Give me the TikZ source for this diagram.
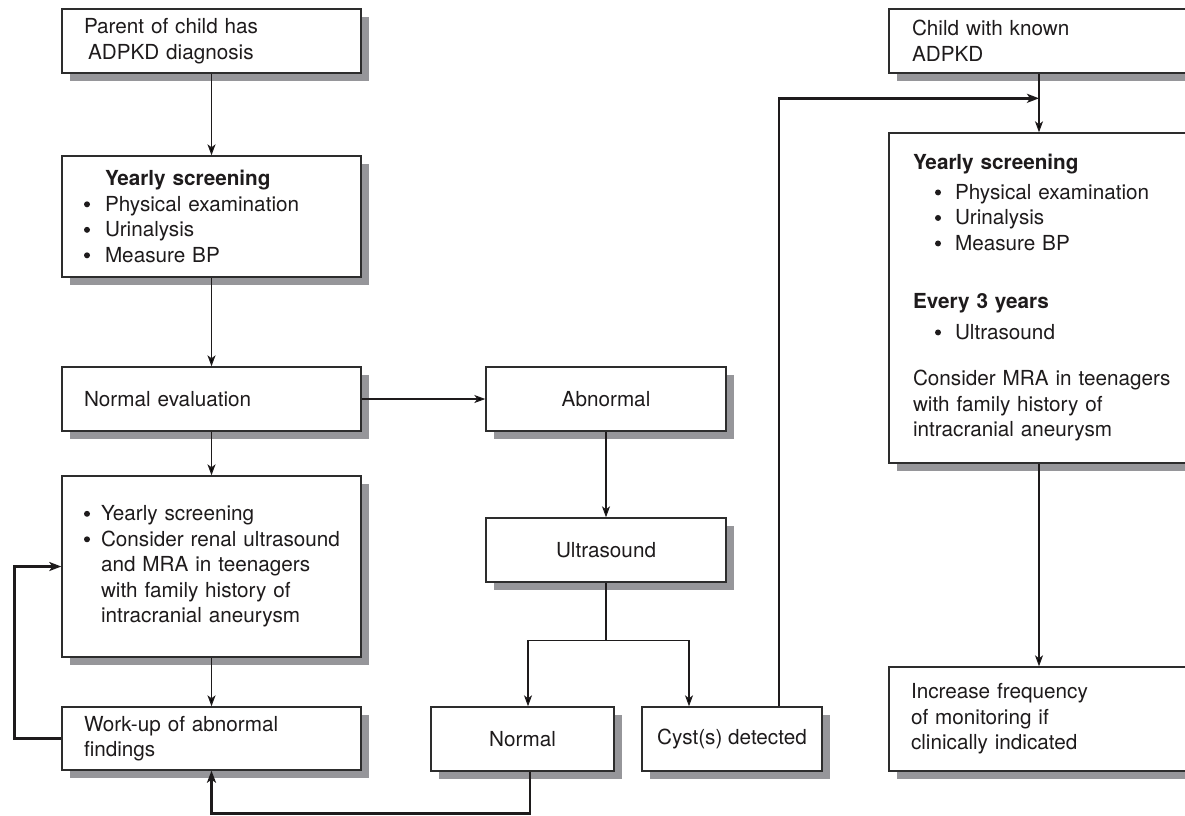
\documentclass[tikz,border=0pt]{standalone}
\usepackage{fontspec}
\setmainfont{TeX Gyre Heros}
\usetikzlibrary{arrows.meta,shadows}
\definecolor{ink}{RGB}{30,27,28}
\definecolor{edge}{RGB}{45,45,45}
\definecolor{shadowgray}{RGB}{150,150,154}
\newcommand\boxfont{\fontsize{20.7}{25.5}\selectfont}
% round list marker in a box of the given width
\newcommand\bul[1]{\makebox[#1][l]{\raisebox{4pt}{\tikz\fill[ink] (0,0) circle (3pt);}}}
\tikzset{
  box/.style={draw=edge, line width=1.4pt, fill=white, inner sep=0pt,
    text=ink, font=\boxfont,
    drop shadow={shadow xshift=8pt, shadow yshift=-8pt, fill=shadowgray, opacity=1}},
  wide/.style={box, minimum width=299pt, text width=255pt, align=left},
  rwide/.style={box, minimum width=300pt, align=left},
  mid/.style={box, align=center, minimum height=64pt},
  flow/.style={draw=ink, line width=1.2pt, -{Stealth[length=11pt,width=8pt,inset=3pt]}},
  back/.style={draw=ink, line width=2.6pt, -{Stealth[length=12pt,width=9pt,inset=3pt]}},
}
\begin{document}
\begin{tikzpicture}[x=1pt,y=-1pt]
\useasboundingbox (0,0) rectangle (1185,815);
\clip (0,0) rectangle (1185,815);

% left column
\node[wide, minimum height=64pt] (b1) at (211.5,41)
  {Parent of child has\\\hspace*{4pt}ADPKD diagnosis};
\node[wide, minimum height=121pt] (b2) at (211.5,216.5)
  {\hspace*{21pt}\textbf{Yearly screening}\\
   \bul{21pt}Physical examination\\
   \bul{21pt}Urinalysis\\
   \bul{21pt}Measure BP};
\node[wide, minimum height=64pt] (b3) at (211.5,399) {Normal evaluation};
\node[wide, minimum height=181pt] (b4) at (211.5,566.5)
  {\bul{17pt}Yearly screening\\
   \mbox{\bul{17pt}Consider renal ultrasound}\\
   \hspace*{17pt}and MRA in teenagers\\
   \hspace*{17pt}with family history of\\
   \hspace*{17pt}intracranial aneurysm};
\node[wide, minimum height=63pt] (b5) at (211.5,738.5)
  {Work-up of abnormal\\findings};

% middle column
\node[mid, minimum width=240pt] (ab) at (606,399) {Abnormal};
\node[mid, minimum width=240pt] (us) at (606,550) {Ultrasound};
\node[mid, minimum width=183pt] (nm) at (522.5,739) {Normal};
\node[mid, minimum width=180pt] (cy) at (732,739) {Cyst(s) detected};

% right column
\node[rwide, minimum height=64pt, text width=254pt] (ch) at (1039,41)
  {Child with known\\ADPKD};
\node[rwide, minimum height=330pt, text width=252pt] (ry) at (1039,298)
  {\textbf{Yearly screening}\\[4pt]
   \hspace*{22pt}\bul{20pt}Physical examination\\
   \hspace*{22pt}\bul{20pt}Urinalysis\\
   \hspace*{22pt}\bul{20pt}Measure BP\\[33pt]
   \textbf{Every 3 years}\\[5pt]
   \hspace*{22pt}\bul{20pt}Ultrasound\\[21pt]
   \mbox{Consider MRA in teenagers}\\
   with family history of\\
   intracranial aneurysm};
\node[rwide, minimum height=104pt, text width=256pt] (inc) at (1039,719)
  {Increase frequency\\of monitoring if\\clinically indicated};

% connectors
\draw[flow] (b1.south) -- (b2.north);
\draw[flow] (b2.south) -- (b3.north);
\draw[flow] (b3.south) -- (b4.north);
\draw[flow] (b4.south) -- (b5.north);
\draw[flow] (b3.east) -- (ab.west);
\draw[flow] (ab.south) -- (us.north);
\draw[draw=ink, line width=1.2pt] (us.south) -- ++(0,58) coordinate (split);
\draw[flow] (split) -| ([xshift=5.5pt]nm.north);
\draw[flow] (split) -| ([xshift=-43pt]cy.north);
\draw[flow] (ch.south) -- (ry.north);
\draw[flow] (ry.south) -- (inc.north);

% feedback paths
\path (ch.south) -- (ry.north) coordinate[pos=0.42] (join);
\draw[back] ([xshift=47pt]cy.north) |- (join);
\draw[back] (b5.west) -- ++(-47pt,0) |- (b4.west);
\draw[back] ([xshift=7.5pt]nm.south) -- ++(0,42) -| (b5.south);
\end{tikzpicture}
\end{document}
